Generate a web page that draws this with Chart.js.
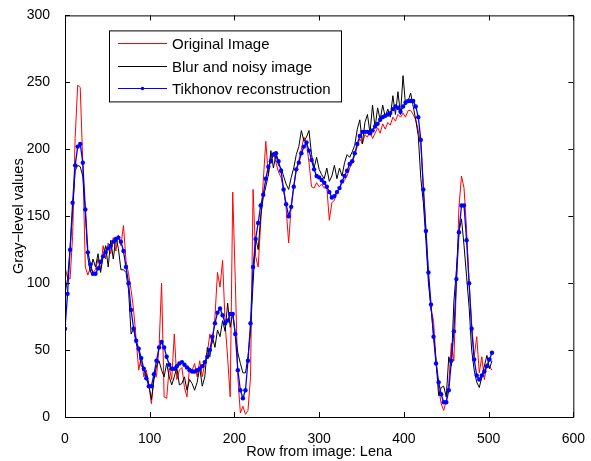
<!DOCTYPE html>
<html>
<head>
<meta charset="utf-8">
<script src="https://cdn.jsdelivr.net/npm/chart.js@4.4.0/dist/chart.umd.min.js"></script>
<style>
  html, body { margin: 0; padding: 0; background: #fff; }
  #wrap { width: 591px; height: 461px; }
</style>
</head>
<body>
<div id="wrap"><canvas id="lenaChart" width="591" height="461"></canvas></div>
<script>
// one row of the Lena image, sampled every 3 pixels (row index = i * 3)
const ROW_STEP = 3;

const original = [
  112, 104, 103, 135, 209, 248, 246, 190, 112, 106,
  112, 108, 110, 118, 110, 128, 118, 130, 122, 134,
  124, 136, 128, 143, 117, 107, 95, 80, 58, 35,
  45, 30, 35, 24, 10, 30, 30, 52, 100, 15,
  14, 37, 28, 62, 28, 35, 37, 22, 15, 37,
  35, 40, 30, 42, 30, 40, 48, 62, 55, 75,
  108, 97, 117, 70, 44, 15, 168, 102, 30, 3,
  8, 2, 5, 30, 170, 120, 112, 145, 176, 206,
  180, 195, 198, 190, 183, 179, 170, 156, 130, 158,
  172, 185, 192, 200, 209, 205, 190, 172, 171, 175,
  172, 174, 171, 172, 147, 160, 162, 168, 171, 175,
  177, 180, 186, 190, 196, 202, 208, 204, 211, 209,
  214, 208, 212, 216, 212, 219, 215, 220, 218, 224,
  221, 226, 224, 227, 224, 229, 229, 226, 222, 214,
  203, 172, 140, 105, 80, 72, 42, 22, 10, 5,
  12, 25, 55, 42, 100, 157, 180, 171, 140, 100,
  70, 45, 60, 33, 45, 28, 40, 38, 35
];

const noisy = [
  92, 103, 126, 155, 184, 188, 187, 180, 154, 119,
  108, 118, 112, 122, 108, 120, 128, 112, 132, 118,
  134, 126, 110, 110, 108, 95, 62, 66, 55, 50,
  38, 37, 32, 24, 13, 28, 38, 42, 35, 30,
  40, 30, 24, 30, 37, 24, 25, 30, 20, 28,
  25, 20, 26, 37, 23, 30, 52, 45, 60, 52,
  65, 60, 72, 64, 85, 67, 78, 62, 48, 40,
  33, 33, 45, 65, 100, 134, 125, 150, 164, 172,
  181, 199, 186, 196, 188, 186, 180, 174, 170, 179,
  186, 196, 202, 214, 206, 209, 214, 196, 186, 194,
  185, 181, 178, 186, 176, 180, 188, 178, 186, 180,
  190, 196, 194, 198, 203, 215, 222, 204, 220, 226,
  212, 233, 216, 231, 222, 233, 224, 230, 224, 240,
  226, 243, 226, 255, 233, 236, 242, 232, 222, 210,
  178, 160, 132, 100, 82, 62, 42, 16, 22, 23,
  15, 45, 38, 86, 110, 138, 148, 128, 105, 82,
  50, 35, 26, 22, 30, 38, 46, 36, 42
];

const tikhonov = [
  66, 92, 125, 160, 188, 202, 204, 190, 155, 123,
  114, 107, 107, 111, 116, 120, 123, 126, 128, 131,
  133, 134, 131, 124, 112, 100, 80, 66, 57, 51,
  44, 36, 29, 23, 23, 32, 42, 52, 56, 52,
  45, 39, 36, 36, 38, 40, 41, 39, 37, 35,
  34, 34, 35, 36, 38, 41, 45, 50, 60, 70,
  78, 81, 76, 70, 72, 77, 77, 62, 35, 20,
  14, 20, 42, 70, 112, 133, 145, 158, 166, 178,
  187, 191, 196, 197, 191, 184, 170, 159, 150, 157,
  172, 185, 190, 197, 202, 205, 199, 192, 185, 180,
  179, 177, 175, 172, 168, 164, 165, 168, 171, 176,
  180, 184, 189, 191, 197, 204, 210, 213, 213, 213,
  212, 214, 217, 219, 222, 224, 225, 226, 227, 230,
  232, 231, 228, 232, 235, 236, 236, 236, 232, 224,
  207, 170, 139, 108, 84, 60, 40, 26, 17, 11,
  11, 20, 42, 64, 103, 138, 158, 158, 132, 100,
  66, 43, 31, 28, 31, 34, 38, 43, 48
];

const rows = original.map((_, i) => i * ROW_STEP);

const xTicks = [0, 100, 200, 300, 400, 500, 600];
const yTicks = [0, 50, 100, 150, 200, 250, 300];

const FONT = '"Liberation Sans", Arial, Helvetica, sans-serif';
Chart.defaults.font.family = FONT;
Chart.defaults.color = '#000';

const toPoints = values => values.map((v, i) => ({ x: rows[i], y: v }));

// box around the axes with inward tick marks on all four sides
const axesFrame = {
  id: 'axesFrame',
  afterDatasetsDraw(chart) {
    const { ctx, chartArea: a, scales } = chart;
    const len = 5;
    ctx.save();
    ctx.strokeStyle = '#000';
    ctx.lineWidth = 1;
    ctx.beginPath();
    ctx.rect(a.left + 0.5, a.top + 0.5, a.right - a.left, a.bottom - a.top);
    xTicks.forEach(t => {
      const px = Math.round(scales.x.getPixelForValue(t)) + 0.5;
      ctx.moveTo(px, a.bottom); ctx.lineTo(px, a.bottom - len);
      ctx.moveTo(px, a.top); ctx.lineTo(px, a.top + len);
    });
    yTicks.forEach(t => {
      const py = Math.round(scales.y.getPixelForValue(t)) + 0.5;
      ctx.moveTo(a.left, py); ctx.lineTo(a.left + len, py);
      ctx.moveTo(a.right, py); ctx.lineTo(a.right - len, py);
    });
    ctx.stroke();
    ctx.restore();
  }
};

// legend box in the upper left of the plot
const boxLegend = {
  id: 'boxLegend',
  afterDraw(chart) {
    const { ctx, chartArea: a } = chart;
    const bx = a.left + 44, by = a.top + 15, bw = 232, bh = 71;
    ctx.save();
    ctx.fillStyle = '#fff';
    ctx.fillRect(bx, by, bw, bh);
    ctx.strokeStyle = '#000';
    ctx.lineWidth = 1;
    ctx.strokeRect(bx + 0.5, by + 0.5, bw, bh);
    ctx.font = '15px ' + FONT;
    ctx.textBaseline = 'middle';
    chart.data.datasets.forEach((ds, i) => {
      const y = Math.round(by + 13 + i * 22.5) + 0.5;
      ctx.strokeStyle = ds.borderColor;
      ctx.lineWidth = 1;
      ctx.beginPath();
      ctx.moveTo(bx + 9, y);
      ctx.lineTo(bx + 58, y);
      ctx.stroke();
      if (ds.pointRadius > 0) {
        ctx.fillStyle = ds.borderColor;
        ctx.beginPath();
        ctx.arc(bx + 33.5, y, 1.8, 0, Math.PI * 2);
        ctx.fill();
      }
      ctx.fillStyle = '#000';
      ctx.fillText(ds.label, bx + 63, y + 1);
    });
    ctx.restore();
  }
};

const ctx = document.getElementById('lenaChart');
new Chart(ctx, {
  type: 'line',
  data: {
    datasets: [
      {
        label: 'Original Image',
        data: toPoints(original),
        borderColor: '#ff0000',
        borderWidth: 1,
        pointRadius: 0,
        tension: 0,
        order: 3
      },
      {
        label: 'Blur and noisy image',
        data: toPoints(noisy),
        borderColor: '#000000',
        borderWidth: 1,
        pointRadius: 0,
        tension: 0,
        order: 2
      },
      {
        label: 'Tikhonov reconstruction',
        data: toPoints(tikhonov),
        borderColor: '#0000ff',
        backgroundColor: '#0000ff',
        borderWidth: 1.3,
        pointRadius: 2.2,
        pointBorderWidth: 0,
        pointBackgroundColor: '#0000ff',
        tension: 0,
        order: 1
      }
    ]
  },
  options: {
    responsive: false,
    animation: false,
    devicePixelRatio: 1,
    layout: { padding: { top: 14, right: 16, left: 0, bottom: 0 } },
    plugins: {
      legend: { display: false },
      tooltip: { enabled: false }
    },
    scales: {
      x: {
        type: 'linear',
        min: 0,
        max: 600,
        grid: { display: false },
        border: { display: false },
        afterBuildTicks: s => { s.ticks = xTicks.map(v => ({ value: v })); },
        ticks: { font: { size: 14 }, padding: 6, maxRotation: 0 },
        title: {
          display: true,
          text: 'Row from image: Lena',
          font: { size: 14.5 },
          padding: { top: 0, bottom: 0 }
        },
        afterFit: s => { s.height = 44; }
      },
      y: {
        type: 'linear',
        min: 0,
        max: 300,
        grid: { display: false },
        border: { display: false },
        afterBuildTicks: s => { s.ticks = yTicks.map(v => ({ value: v })); },
        ticks: { font: { size: 14 }, padding: 7 },
        title: {
          display: true,
          text: 'Gray\u2212level values',
          font: { size: 14.5 },
          padding: { top: 10, bottom: 0 }
        },
        afterFit: s => { s.width = 65; }
      }
    }
  },
  plugins: [axesFrame, boxLegend]
});
</script>
</body>
</html>
